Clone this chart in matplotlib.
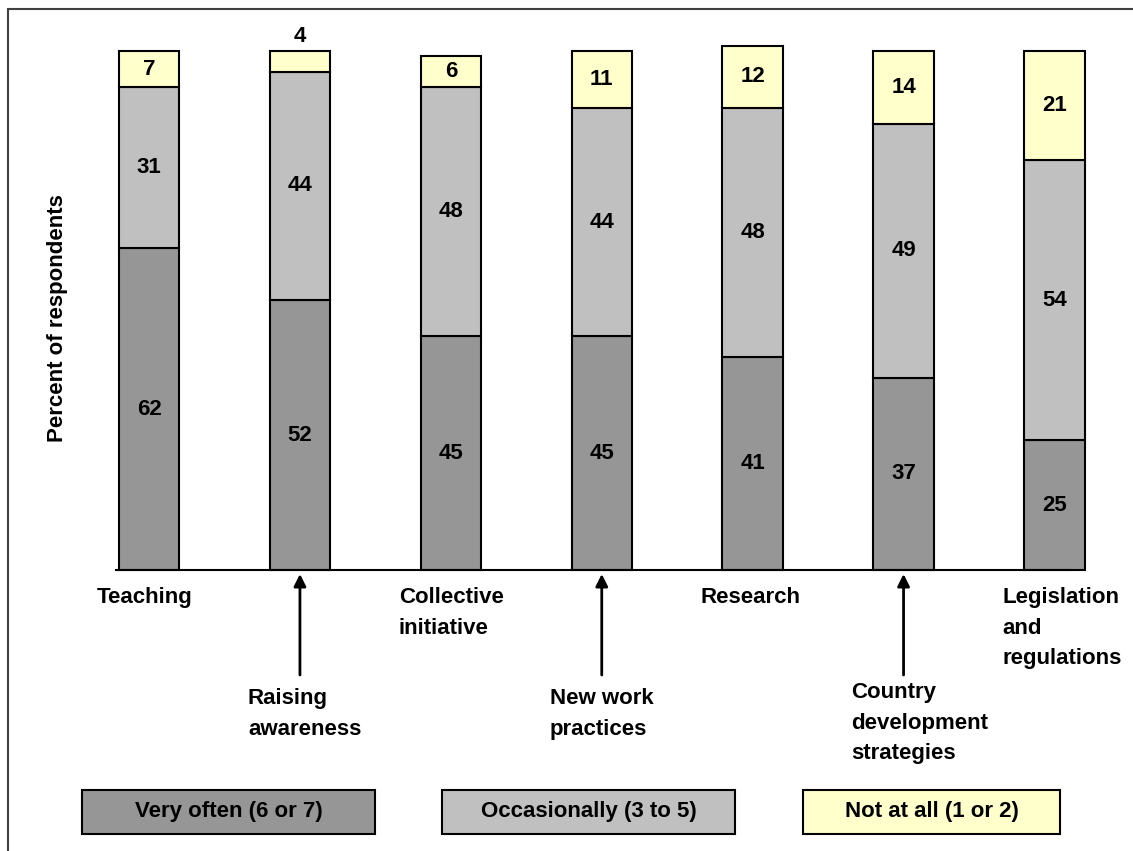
import matplotlib.pyplot as plt
from matplotlib.patches import Rectangle
from matplotlib.transforms import blended_transform_factory

plt.rcParams['font.family'] = ['Liberation Sans', 'DejaVu Sans']
plt.rcParams['font.weight'] = 'bold'

categories = ["Teaching", "Raising\nawareness", "Collective\ninitiative",
              "New work\npractices", "Research", "Country\ndevelopment\nstrategies",
              "Legislation\nand\nregulations"]
very_often = [62, 52, 45, 45, 41, 37, 25]
occasionally = [31, 44, 48, 44, 48, 49, 54]
not_at_all = [7, 4, 6, 11, 12, 14, 21]

series_names = ["Very often (6 or 7)", "Occasionally (3 to 5)", "Not at all (1 or 2)"]
colors = ["#969696", "#c0c0c0", "#ffffcc"]

FS = 16
W, H = 1133, 851
fig = plt.figure(figsize=(W / 100, H / 100), dpi=100)
fig.patch.set_facecolor("white")

# plot area in pixels: baseline y=570, 100% at y=51
ax = fig.add_axes([116 / W, 1 - 570 / H, (1070 - 116) / W, 519 / H])
x = list(range(len(categories)))
bar_w = 0.4
bottoms = [0] * len(x)
for vals, col in zip([very_often, occasionally, not_at_all], colors):
    ax.bar(x, vals, bar_w, bottom=bottoms, color=col, edgecolor="black",
           linewidth=1.5, clip_on=False, zorder=2)
    for i, v in enumerate(vals):
        if v >= 6:
            ypos = bottoms[i] + v / 2
        else:
            ypos = bottoms[i] + v + 2.8
        ax.text(i, ypos, str(v), ha="center", va="center", fontsize=FS,
                fontweight="bold", clip_on=False)
    bottoms = [b + v for b, v in zip(bottoms, vals)]

ax.set_xlim(-0.219, 6.103)
ax.set_ylim(0, 100)
for s in ["top", "right", "left"]:
    ax.spines[s].set_visible(False)
ax.spines["bottom"].set_linewidth(1.5)
ax.spines["bottom"].set_zorder(3)
ax.set_xticks([])
ax.set_yticks([])
ax.patch.set_alpha(0)

fig.text(57 / W, 1 - 318 / H, "Percent of respondents", rotation=90,
         ha="center", va="center", fontsize=FS, fontweight="bold")

# category labels, alternating rows; lower row gets an arrow up to its bar
tr = blended_transform_factory(ax.transData, fig.transFigure)
for i, name in enumerate(categories):
    if i % 2 == 0:
        top = 587
    else:
        top = 682 if name.count("\n") == 2 else 688
        ax.annotate("", xy=(i, 1 - 574 / H), xytext=(i, 1 - 675 / H),
                    xycoords=tr, textcoords=tr,
                    arrowprops=dict(arrowstyle="-|>", color="black", lw=2,
                                    mutation_scale=18, shrinkA=0, shrinkB=0))
    ax.text(i - 0.345, 1 - top / H, name, transform=tr, ha="left", va="top",
            fontsize=FS, fontweight="bold", linespacing=1.6)

# legend boxes
boxes = [(82, 293), (442, 293), (803, 257)]
for (bx, bw), name, col in zip(boxes, series_names, colors):
    fig.add_artist(Rectangle((bx / W, 1 - 834 / H), bw / W, 44 / H,
                             transform=fig.transFigure, facecolor=col,
                             edgecolor="black", linewidth=1.5))
    fig.text((bx + bw / 2) / W, 1 - 812 / H, name, ha="center", va="center",
             fontsize=FS, fontweight="bold")

# outer frame
fig.add_artist(Rectangle((8 / W, -0.1), 1.2, 1.1 - 9 / H, transform=fig.transFigure,
                         facecolor="none", edgecolor="#404040", linewidth=1.5))

fig.savefig("out.png", dpi=100)
